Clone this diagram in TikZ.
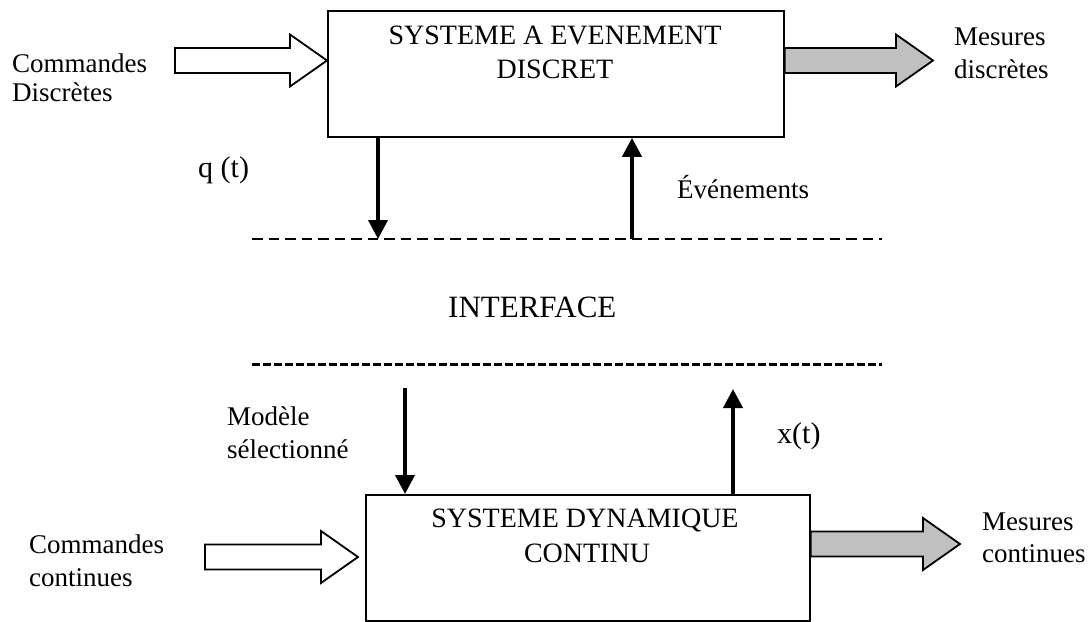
\documentclass[tikz,border=0pt]{standalone}
\usepackage{fontspec}
\setmainfont{Liberation Serif}
\usetikzlibrary{arrows.meta,calc}

\definecolor{arrowgray}{RGB}{192,192,192}

% Wide block arrow running horizontally from #2 to the tip #3 (tip's height is used)
\newcommand{\fatarrow}[3]{%
  \draw[#1] let \p1=(#2), \p2=(#3) in
    ({\x1},{\y2+12.5pt}) -- ({\x2-37pt},{\y2+12.5pt}) -- ({\x2-37pt},{\y2+26pt})
    -- ({\x2},{\y2}) -- ({\x2-37pt},{\y2-26pt}) -- ({\x2-37pt},{\y2-12.5pt})
    -- ({\x1},{\y2-12.5pt}) -- cycle;}

\tikzset{
  sysbox/.style={draw, line width=1.8pt, inner sep=0pt, anchor=north west},
  boxtext/.style={anchor=base, inner sep=0pt, font=\fontsize{28}{34}\selectfont},
  lbl/.style={anchor=base west, inner sep=0pt, font=\fontsize{27}{32}\selectfont},
  sigtext/.style={anchor=base west, inner sep=0pt, font=\fontsize{30}{36}\selectfont},
  sig/.style={line width=4pt, -{Triangle[width=19pt,length=19pt]}},
  hollow/.style={draw, line width=1.8pt, fill=white, line join=miter},
  shaded/.style={draw, line width=1.8pt, fill=arrowgray, line join=miter},
  thindash/.style={line width=1.5pt, dash pattern=on 10.5pt off 6pt},
  thickdash/.style={line width=3pt, dash pattern=on 8pt off 3pt},
}

\begin{document}
\begin{tikzpicture}[x=1pt, y=-1pt]
\useasboundingbox (0,0) rectangle (1089,621);

% the two systems
\node[sysbox, minimum width=456pt, minimum height=126pt] (des) at (327,10) {};
\node[sysbox, minimum width=444pt, minimum height=126pt] (sdc) at (365,494) {};

\node[boxtext] (desA) at (555,44) {SYSTEME A EVENEMENT};
\node[boxtext] (desB) at (555,78) {DISCRET};
\node[boxtext] (sdcA) at (585,527) {SYSTEME DYNAMIQUE};
\node[boxtext] (sdcB) at (587,562) {CONTINU};

% interface boundaries
\coordinate (upL) at (252,239);
\coordinate (upR) at (882,239);
\coordinate (loL) at (252,364);
\coordinate (loR) at (882,364);
\draw[thindash] (upL) -- (upR);
\draw[thickdash] (loL) -- (loR);
\node[anchor=base west, inner sep=0pt, font=\fontsize{31}{37}\selectfont] (itf) at (448,317) {INTERFACE};

% signals between the systems and the interface
\coordinate (qEnd) at (378,239);
\coordinate (evStart) at (632,239);
\coordinate (mStart) at (405,388);
\coordinate (xEnd) at (733,389);
\draw[sig] (qEnd |- des.south) -- (qEnd);
\draw[sig] (evStart) -- (evStart |- des.south);
\draw[sig] (mStart) -- (mStart |- sdc.north);
\draw[sig] (xEnd |- sdc.north) -- (xEnd);

\node[sigtext] (qlbl) at (198,177) {q (t)};
\node[lbl] (evlbl) at (677,198) {Événements};
\node[lbl] (mlblA) at (227,425) {Modèle};
\node[lbl] (mlblB) at (227,458) {sélectionné};
\node[sigtext] (xlbl) at (777,443) {x(t)};

% inputs and outputs
\coordinate (cdIn) at (175,60.5);
\coordinate (mdOut) at (933,60.5);
\coordinate (ccIn) at (205,557);
\coordinate (ccTip) at (358,557);
\coordinate (mcOut) at (960,544);
\fatarrow{hollow}{cdIn}{cdIn -| des.west}
\fatarrow{shaded}{des.east |- mdOut}{mdOut}
\fatarrow{hollow}{ccIn}{ccTip}
\fatarrow{shaded}{sdc.east |- mcOut}{mcOut}

\node[lbl] (cdA) at (12,72) {Commandes};
\node[lbl] (cdB) at (12,101) {Discrètes};
\node[lbl] (mdA) at (954,45) {Mesures};
\node[lbl] (mdB) at (954,78) {discrètes};
\node[lbl] (ccA) at (29,553) {Commandes};
\node[lbl] (ccB) at (29,586) {continues};
\node[lbl] (mcA) at (982,530) {Mesures};
\node[lbl] (mcB) at (982,562) {continues};
\end{tikzpicture}
\end{document}
